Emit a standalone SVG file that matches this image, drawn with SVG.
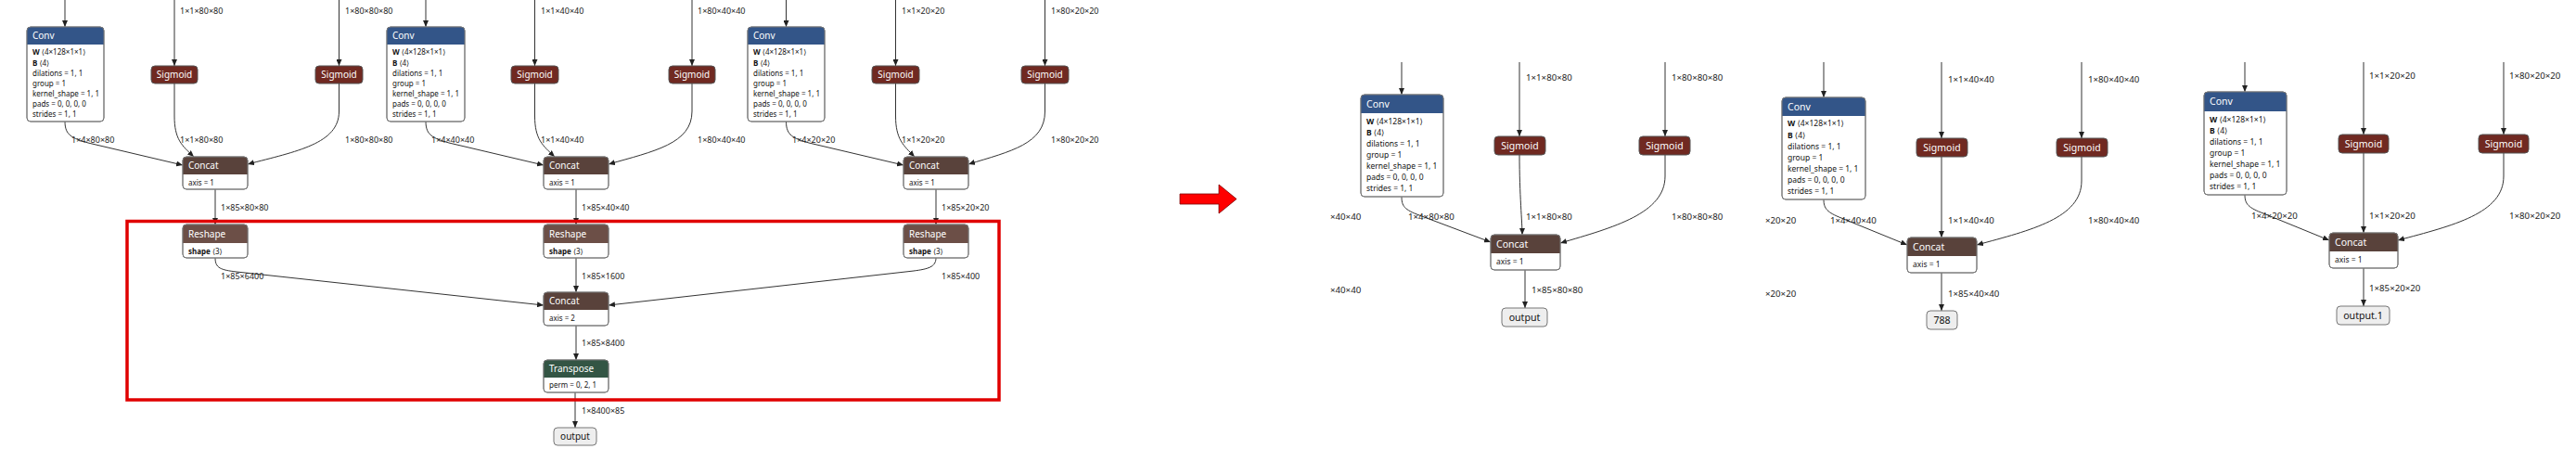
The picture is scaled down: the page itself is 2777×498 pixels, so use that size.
<svg xmlns="http://www.w3.org/2000/svg" width="2777" height="498" viewBox="0 0 2777 498">
<defs>
<marker id="arr" markerUnits="userSpaceOnUse" markerWidth="7" markerHeight="6" refX="7" refY="3" orient="auto">
<path d="M0,0 L7,3 L0,6 Z" fill="#222"/>
</marker>
<style>
.edge{fill:none;stroke:#333;stroke-width:1;marker-end:url(#arr)}
.nb{fill:#fff;stroke:#888;stroke-width:1}
.nbo{fill:none;stroke:#777;stroke-width:1}
.conv{fill:#335588}
.act{fill:#702921;stroke:#555;stroke-width:1}
.tensor{fill:#59423b}
.shape{fill:#6c4f47}
.trans{fill:#335544}
.io{fill:#eeeeee;stroke:#777;stroke-width:1}
text{font-family:"Noto Sans","DejaVu Sans",sans-serif}
.hL{font-size:10px;fill:#fff}
.aL{font-size:8px;fill:#111}
.eL{font-size:9px;fill:#222}
.hR{font-size:10.5px;fill:#fff}
.aR{font-size:8.5px;fill:#111}
.eR{font-size:9.7px;fill:#222}
.oL{font-size:10px;fill:#111}
.oR{font-size:10.6px;fill:#111}
.b{font-weight:bold}
.mid{text-anchor:middle}
</style>
</defs>
<rect width="2777" height="498" fill="#fff"/>

<!-- ===== connectors ===== -->
<g id="connectors">
<!-- left: inputs -->
<path class="edge" d="M70,0 V29"/>
<path class="edge" d="M188,0 V71"/>
<path class="edge" d="M365.5,0 V71"/>
<path class="edge" d="M459,0 V29"/>
<path class="edge" d="M576.5,0 V71"/>
<path class="edge" d="M746,0 V71"/>
<path class="edge" d="M847.5,0 V29"/>
<path class="edge" d="M965.5,0 V71"/>
<path class="edge" d="M1126.5,0 V71"/>
<!-- block 1 -->
<path class="edge" d="M70,131 C70,146 78,149 95,154 L197,178"/>
<path class="edge" d="M188,90 V125 C188,150 196,157 209,169"/>
<path class="edge" d="M365.5,90 V120 C365.5,155 320,163 267,177"/>
<!-- block 2 -->
<path class="edge" d="M459,131 C459,146 467,149 484,154 L586,178"/>
<path class="edge" d="M576.5,90 V125 C576.5,150 585,157 598,169"/>
<path class="edge" d="M746,90 V120 C746,155 705,163 656,177"/>
<!-- block 3 -->
<path class="edge" d="M847.5,131 C847.5,146 855,149 872,154 L974,178"/>
<path class="edge" d="M965.5,90 V125 C965.5,150 974,157 986,169"/>
<path class="edge" d="M1126.5,90 V120 C1126.5,155 1090,163 1044,177"/>
<!-- to reshape -->
<path class="edge" d="M232,204 V242"/>
<path class="edge" d="M621,204 V242"/>
<path class="edge" d="M1009,204 V242"/>
<path class="edge" d="M232,278 C232,289 238,291 255,293 L586,329"/>
<path class="edge" d="M621,278 V315"/>
<path class="edge" d="M1009,278 C1009,288 1000,290 985,292 L656,329"/>
<path class="edge" d="M621,351 V388"/>
<path class="edge" d="M620,423 V461"/>

<!-- right panel 1 -->
<path class="edge" d="M1511,67 V102"/>
<path class="edge" d="M1638,67 V147"/>
<path class="edge" d="M1795,67 V147"/>
<path class="edge" d="M1511,212 C1511,222 1514,226 1530,232 L1607,261"/>
<path class="edge" d="M1638,167 C1638,210 1641,240 1641,253"/>
<path class="edge" d="M1795,167 V190 C1795,230 1740,245 1682,262"/>
<path class="edge" d="M1644,291 V332"/>
<!-- right panel 2 -->
<path class="edge" d="M1966,67 V105"/>
<path class="edge" d="M2093,67 V149"/>
<path class="edge" d="M2244,67 V149"/>
<path class="edge" d="M1966,215 C1966,225 1970,229 1985,235 L2056,264"/>
<path class="edge" d="M2093,169 V256"/>
<path class="edge" d="M2244,169 V195 C2244,235 2190,248 2131,264"/>
<path class="edge" d="M2093,294 V335"/>
<!-- right panel 3 -->
<path class="edge" d="M2420,67 V99"/>
<path class="edge" d="M2548,67 V145"/>
<path class="edge" d="M2699,67 V145"/>
<path class="edge" d="M2420,210 C2420,220 2424,224 2440,230 L2511,259"/>
<path class="edge" d="M2548,165 V251"/>
<path class="edge" d="M2699,165 V190 C2699,230 2645,243 2585,259"/>
<path class="edge" d="M2548,289 V330"/>
</g>

<!-- ===== edge labels ===== -->
<g id="edge-labels">
<text class="eL" x="194" y="15">1×1×80×80</text>
<text class="eL" x="372" y="15">1×80×80×80</text>
<text class="eL" x="583" y="15">1×1×40×40</text>
<text class="eL" x="752" y="15">1×80×40×40</text>
<text class="eL" x="972" y="15">1×1×20×20</text>
<text class="eL" x="1133" y="15">1×80×20×20</text>
<text class="eL" x="77" y="154">1×4×80×80</text>
<text class="eL" x="194" y="154">1×1×80×80</text>
<text class="eL" x="372" y="154">1×80×80×80</text>
<text class="eL" x="465" y="154">1×4×40×40</text>
<text class="eL" x="583" y="154">1×1×40×40</text>
<text class="eL" x="752" y="154">1×80×40×40</text>
<text class="eL" x="854" y="154">1×4×20×20</text>
<text class="eL" x="972" y="154">1×1×20×20</text>
<text class="eL" x="1133" y="154">1×80×20×20</text>
<text class="eL" x="238" y="227">1×85×80×80</text>
<text class="eL" x="627" y="227">1×85×40×40</text>
<text class="eL" x="1015" y="227">1×85×20×20</text>
<text class="eL" x="238" y="301">1×85×6400</text>
<text class="eL" x="627" y="301">1×85×1600</text>
<text class="eL" x="1015" y="301">1×85×400</text>
<text class="eL" x="627" y="373">1×85×8400</text>
<text class="eL" x="627" y="446">1×8400×85</text>

<text class="eR" x="1645" y="86.5">1×1×80×80</text>
<text class="eR" x="1802" y="86.5">1×80×80×80</text>
<text class="eR" x="1518" y="236.5">1×4×80×80</text>
<text class="eR" x="1645" y="236.5">1×1×80×80</text>
<text class="eR" x="1802" y="236.5">1×80×80×80</text>
<text class="eR" x="1651" y="315.5">1×85×80×80</text>
<text class="eR" x="1434" y="236.5">×40×40</text>
<text class="eR" x="1434" y="315.5">×40×40</text>

<text class="eR" x="2100" y="88.5">1×1×40×40</text>
<text class="eR" x="2251" y="88.5">1×80×40×40</text>
<text class="eR" x="1973" y="240.5">1×4×40×40</text>
<text class="eR" x="2100" y="240.5">1×1×40×40</text>
<text class="eR" x="2251" y="240.5">1×80×40×40</text>
<text class="eR" x="2100" y="319.5">1×85×40×40</text>
<text class="eR" x="1903" y="240.5">×20×20</text>
<text class="eR" x="1903" y="319.5">×20×20</text>

<text class="eR" x="2554" y="84.5">1×1×20×20</text>
<text class="eR" x="2705" y="84.5">1×80×20×20</text>
<text class="eR" x="2427" y="235.5">1×4×20×20</text>
<text class="eR" x="2554" y="235.5">1×1×20×20</text>
<text class="eR" x="2705" y="235.5">1×80×20×20</text>
<text class="eR" x="2554" y="313.5">1×85×20×20</text>
</g>

<!-- ===== left nodes ===== -->
<g id="conv_l1">
<rect class="nb" x="29" y="29" width="83" height="102" rx="4"/>
<path class="conv" d="M29,48 V33 Q29,29 33,29 H108 Q112,29 112,33 V48 Z"/>
<rect class="nbo" x="29" y="29" width="83" height="102" rx="4"/>
<text class="hL" x="35" y="42">Conv</text>
<text class="aL" x="35" y="59"><tspan class="b">W</tspan> ⟨4×128×1×1⟩</text>
<text class="aL" x="35" y="70.5"><tspan class="b">B</tspan> ⟨4⟩</text>
<text class="aL" x="35" y="82">dilations = 1, 1</text>
<text class="aL" x="35" y="92.5">group = 1</text>
<text class="aL" x="35" y="103.5">kernel_shape = 1, 1</text>
<text class="aL" x="35" y="115">pads = 0, 0, 0, 0</text>
<text class="aL" x="35" y="126">strides = 1, 1</text>
</g>
<g id="conv_l2">
<rect class="nb" x="417" y="29" width="84" height="102" rx="4"/>
<path class="conv" d="M417,48 V33 Q417,29 421,29 H497 Q501,29 501,33 V48 Z"/>
<rect class="nbo" x="417" y="29" width="84" height="102" rx="4"/>
<text class="hL" x="423" y="42">Conv</text>
<text class="aL" x="423" y="59"><tspan class="b">W</tspan> ⟨4×128×1×1⟩</text>
<text class="aL" x="423" y="70.5"><tspan class="b">B</tspan> ⟨4⟩</text>
<text class="aL" x="423" y="82">dilations = 1, 1</text>
<text class="aL" x="423" y="92.5">group = 1</text>
<text class="aL" x="423" y="103.5">kernel_shape = 1, 1</text>
<text class="aL" x="423" y="115">pads = 0, 0, 0, 0</text>
<text class="aL" x="423" y="126">strides = 1, 1</text>
</g>
<g id="conv_l3">
<rect class="nb" x="806" y="29" width="83" height="102" rx="4"/>
<path class="conv" d="M806,48 V33 Q806,29 810,29 H885 Q889,29 889,33 V48 Z"/>
<rect class="nbo" x="806" y="29" width="83" height="102" rx="4"/>
<text class="hL" x="812" y="42">Conv</text>
<text class="aL" x="812" y="59"><tspan class="b">W</tspan> ⟨4×128×1×1⟩</text>
<text class="aL" x="812" y="70.5"><tspan class="b">B</tspan> ⟨4⟩</text>
<text class="aL" x="812" y="82">dilations = 1, 1</text>
<text class="aL" x="812" y="92.5">group = 1</text>
<text class="aL" x="812" y="103.5">kernel_shape = 1, 1</text>
<text class="aL" x="812" y="115">pads = 0, 0, 0, 0</text>
<text class="aL" x="812" y="126">strides = 1, 1</text>
</g>

<g id="sigmoid_l1"><rect class="act" x="163" y="71" width="50" height="19" rx="4"/><text class="hL mid" x="188" y="84">Sigmoid</text></g>
<g id="sigmoid_l2"><rect class="act" x="340" y="71" width="51" height="19" rx="4"/><text class="hL mid" x="365.5" y="84">Sigmoid</text></g>
<g id="sigmoid_l3"><rect class="act" x="551" y="71" width="51" height="19" rx="4"/><text class="hL mid" x="576.5" y="84">Sigmoid</text></g>
<g id="sigmoid_l4"><rect class="act" x="721" y="71" width="50" height="19" rx="4"/><text class="hL mid" x="746" y="84">Sigmoid</text></g>
<g id="sigmoid_l5"><rect class="act" x="940" y="71" width="51" height="19" rx="4"/><text class="hL mid" x="965.5" y="84">Sigmoid</text></g>
<g id="sigmoid_l6"><rect class="act" x="1101" y="71" width="51" height="19" rx="4"/><text class="hL mid" x="1126.5" y="84">Sigmoid</text></g>

<g id="concat_l1">
<rect class="nb" x="197" y="169" width="70" height="35" rx="4"/>
<path class="tensor" d="M197,188 V173 Q197,169 201,169 H263 Q267,169 267,173 V188 Z"/>
<rect class="nbo" x="197" y="169" width="70" height="35" rx="4"/>
<text class="hL" x="203" y="182">Concat</text>
<text class="aL" x="203" y="199.5">axis = 1</text>
</g>
<g id="concat_l2">
<rect class="nb" x="586" y="169" width="70" height="35" rx="4"/>
<path class="tensor" d="M586,188 V173 Q586,169 590,169 H652 Q656,169 656,173 V188 Z"/>
<rect class="nbo" x="586" y="169" width="70" height="35" rx="4"/>
<text class="hL" x="592" y="182">Concat</text>
<text class="aL" x="592" y="199.5">axis = 1</text>
</g>
<g id="concat_l3">
<rect class="nb" x="974" y="169" width="70" height="35" rx="4"/>
<path class="tensor" d="M974,188 V173 Q974,169 978,169 H1040 Q1044,169 1044,173 V188 Z"/>
<rect class="nbo" x="974" y="169" width="70" height="35" rx="4"/>
<text class="hL" x="980" y="182">Concat</text>
<text class="aL" x="980" y="199.5">axis = 1</text>
</g>

<g id="reshape_1">
<rect class="nb" x="197" y="242" width="70" height="36" rx="4"/>
<path class="shape" d="M197,262 V246 Q197,242 201,242 H263 Q267,242 267,246 V262 Z"/>
<rect class="nbo" x="197" y="242" width="70" height="36" rx="4"/>
<text class="hL" x="203" y="255.5">Reshape</text>
<text class="aL" x="203" y="273.5"><tspan class="b">shape</tspan> ⟨3⟩</text>
</g>
<g id="reshape_2">
<rect class="nb" x="586" y="242" width="70" height="36" rx="4"/>
<path class="shape" d="M586,262 V246 Q586,242 590,242 H652 Q656,242 656,246 V262 Z"/>
<rect class="nbo" x="586" y="242" width="70" height="36" rx="4"/>
<text class="hL" x="592" y="255.5">Reshape</text>
<text class="aL" x="592" y="273.5"><tspan class="b">shape</tspan> ⟨3⟩</text>
</g>
<g id="reshape_3">
<rect class="nb" x="974" y="242" width="70" height="36" rx="4"/>
<path class="shape" d="M974,262 V246 Q974,242 978,242 H1040 Q1044,242 1044,246 V262 Z"/>
<rect class="nbo" x="974" y="242" width="70" height="36" rx="4"/>
<text class="hL" x="980" y="255.5">Reshape</text>
<text class="aL" x="980" y="273.5"><tspan class="b">shape</tspan> ⟨3⟩</text>
</g>

<g id="concat_axis2">
<rect class="nb" x="586" y="315" width="70" height="36" rx="4"/>
<path class="tensor" d="M586,334 V319 Q586,315 590,315 H652 Q656,315 656,319 V334 Z"/>
<rect class="nbo" x="586" y="315" width="70" height="36" rx="4"/>
<text class="hL" x="592" y="328">Concat</text>
<text class="aL" x="592" y="345.5">axis = 2</text>
</g>
<g id="transpose">
<rect class="nb" x="586" y="388" width="70" height="35" rx="4"/>
<path class="trans" d="M586,407 V392 Q586,388 590,388 H652 Q656,388 656,392 V407 Z"/>
<rect class="nbo" x="586" y="388" width="70" height="35" rx="4"/>
<text class="hL" x="592" y="401">Transpose</text>
<text class="aL" x="592" y="418">perm = 0, 2, 1</text>
</g>
<g id="output_l"><rect class="io" x="597" y="461" width="46" height="19" rx="4"/><text class="oL mid" x="620" y="474">output</text></g>

<!-- highlight box -->
<g id="highlight"><rect x="137" y="238.5" width="940" height="192.5" fill="none" stroke="#e00000" stroke-width="3.5"/></g>

<!-- big arrow -->
<g id="big-arrow"><polygon points="1272,209 1314,209 1314,199 1333,214.5 1314,230 1314,220 1272,220" fill="#ff0000" stroke="#7a0000" stroke-width="0.8"/></g>

<!-- ===== right panel 1 ===== -->
<g id="conv_r1">
<rect class="nb" x="1467" y="102" width="89" height="110" rx="4"/>
<path class="conv" d="M1467,122 V106 Q1467,102 1471,102 H1552 Q1556,102 1556,106 V122 Z"/>
<rect class="nbo" x="1467" y="102" width="89" height="110" rx="4"/>
<text class="hR" x="1473" y="115.5">Conv</text>
<text class="aR" x="1473" y="134"><tspan class="b">W</tspan> ⟨4×128×1×1⟩</text>
<text class="aR" x="1473" y="146"><tspan class="b">B</tspan> ⟨4⟩</text>
<text class="aR" x="1473" y="158">dilations = 1, 1</text>
<text class="aR" x="1473" y="170">group = 1</text>
<text class="aR" x="1473" y="182">kernel_shape = 1, 1</text>
<text class="aR" x="1473" y="194">pads = 0, 0, 0, 0</text>
<text class="aR" x="1473" y="206">strides = 1, 1</text>
</g>
<g id="sigmoid_r1"><rect class="act" x="1611" y="147" width="55" height="20" rx="4"/><text class="hR mid" x="1638.5" y="160.5">Sigmoid</text></g>
<g id="sigmoid_r2"><rect class="act" x="1767" y="147" width="55" height="20" rx="4"/><text class="hR mid" x="1794.5" y="160.5">Sigmoid</text></g>
<g id="concat_r1">
<rect class="nb" x="1607" y="253" width="75" height="38" rx="4"/>
<path class="tensor" d="M1607,273 V257 Q1607,253 1611,253 H1678 Q1682,253 1682,257 V273 Z"/>
<rect class="nbo" x="1607" y="253" width="75" height="38" rx="4"/>
<text class="hR" x="1613" y="266.5">Concat</text>
<text class="aR" x="1613" y="285">axis = 1</text>
</g>
<g id="output_r1"><rect class="io" x="1619" y="332" width="49" height="20" rx="4"/><text class="oR mid" x="1643.5" y="345.5">output</text></g>

<!-- ===== right panel 2 ===== -->
<g id="conv_r2">
<rect class="nb" x="1921" y="105" width="90" height="110" rx="4"/>
<path class="conv" d="M1921,125 V109 Q1921,105 1925,105 H2007 Q2011,105 2011,109 V125 Z"/>
<rect class="nbo" x="1921" y="105" width="90" height="110" rx="4"/>
<text class="hR" x="1927" y="118.5">Conv</text>
<text class="aR" x="1927" y="136"><tspan class="b">W</tspan> ⟨4×128×1×1⟩</text>
<text class="aR" x="1927" y="149"><tspan class="b">B</tspan> ⟨4⟩</text>
<text class="aR" x="1927" y="161">dilations = 1, 1</text>
<text class="aR" x="1927" y="173">group = 1</text>
<text class="aR" x="1927" y="185">kernel_shape = 1, 1</text>
<text class="aR" x="1927" y="197">pads = 0, 0, 0, 0</text>
<text class="aR" x="1927" y="209">strides = 1, 1</text>
</g>
<g id="sigmoid_r3"><rect class="act" x="2066" y="149" width="55" height="20" rx="4"/><text class="hR mid" x="2093.5" y="162.5">Sigmoid</text></g>
<g id="sigmoid_r4"><rect class="act" x="2217" y="149" width="55" height="20" rx="4"/><text class="hR mid" x="2244.5" y="162.5">Sigmoid</text></g>
<g id="concat_r2">
<rect class="nb" x="2056" y="256" width="75" height="38" rx="4"/>
<path class="tensor" d="M2056,276 V260 Q2056,256 2060,256 H2127 Q2131,256 2131,260 V276 Z"/>
<rect class="nbo" x="2056" y="256" width="75" height="38" rx="4"/>
<text class="hR" x="2062" y="269.5">Concat</text>
<text class="aR" x="2062" y="288">axis = 1</text>
</g>
<g id="output_r2"><rect class="io" x="2077" y="335" width="33" height="20" rx="4"/><text class="oR mid" x="2093.5" y="348.5">788</text></g>

<!-- ===== right panel 3 ===== -->
<g id="conv_r3">
<rect class="nb" x="2376" y="99" width="89" height="111" rx="4"/>
<path class="conv" d="M2376,120 V103 Q2376,99 2380,99 H2461 Q2465,99 2465,103 V120 Z"/>
<rect class="nbo" x="2376" y="99" width="89" height="111" rx="4"/>
<text class="hR" x="2382" y="113">Conv</text>
<text class="aR" x="2382" y="132"><tspan class="b">W</tspan> ⟨4×128×1×1⟩</text>
<text class="aR" x="2382" y="144"><tspan class="b">B</tspan> ⟨4⟩</text>
<text class="aR" x="2382" y="156">dilations = 1, 1</text>
<text class="aR" x="2382" y="168">group = 1</text>
<text class="aR" x="2382" y="180">kernel_shape = 1, 1</text>
<text class="aR" x="2382" y="192">pads = 0, 0, 0, 0</text>
<text class="aR" x="2382" y="204">strides = 1, 1</text>
</g>
<g id="sigmoid_r5"><rect class="act" x="2521" y="145" width="54" height="20" rx="4"/><text class="hR mid" x="2548" y="158.5">Sigmoid</text></g>
<g id="sigmoid_r6"><rect class="act" x="2672" y="145" width="54" height="20" rx="4"/><text class="hR mid" x="2699" y="158.5">Sigmoid</text></g>
<g id="concat_r3">
<rect class="nb" x="2511" y="251" width="74" height="38" rx="4"/>
<path class="tensor" d="M2511,271 V255 Q2511,251 2515,251 H2581 Q2585,251 2585,255 V271 Z"/>
<rect class="nbo" x="2511" y="251" width="74" height="38" rx="4"/>
<text class="hR" x="2517" y="264.5">Concat</text>
<text class="aR" x="2517" y="283">axis = 1</text>
</g>
<g id="output_r3"><rect class="io" x="2519" y="330" width="57" height="20" rx="4"/><text class="oR mid" x="2547.5" y="343.5">output.1</text></g>
</svg>
